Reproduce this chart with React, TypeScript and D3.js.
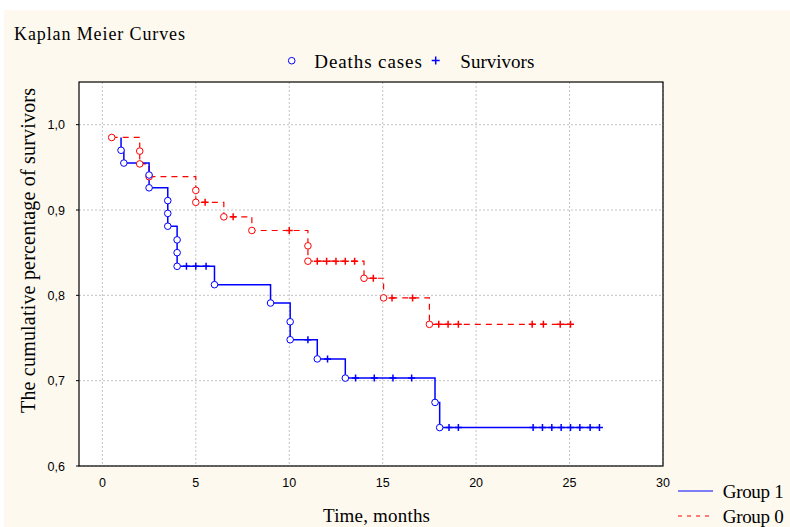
import React from "react";
import * as d3 from "d3";

// Group 1 (blue, solid): time, survival, marker (d = death, c = censored, n = none)
const group1Time = [1.0, 1.0, 1.15, 2.5, 2.5, 3.5, 3.5, 3.5, 4.0, 4.0, 4.0, 4.5, 5.0, 5.55, 6.0, 9.0, 10.05, 10.05, 11.0, 11.5, 12.05, 13.0, 13.55, 14.55, 15.55, 16.55, 17.8, 18.05, 18.55, 19.05, 23.05, 23.55, 24.05, 24.55, 25.05, 25.55, 26.1, 26.6];
const group1Surv = [0.985, 0.97, 0.955, 0.941, 0.926, 0.911, 0.896, 0.881, 0.865, 0.85, 0.834, 0.834, 0.834, 0.834, 0.8125, 0.791, 0.769, 0.748, 0.748, 0.7255, 0.7255, 0.703, 0.703, 0.703, 0.703, 0.703, 0.6745, 0.645, 0.645, 0.645, 0.645, 0.645, 0.645, 0.645, 0.645, 0.645, 0.645, 0.645];
const group1Mark = ["n", "d", "d", "d", "d", "d", "d", "d", "d", "d", "d", "c", "c", "c", "d", "d", "d", "d", "c", "d", "c", "d", "c", "c", "c", "c", "d", "d", "c", "c", "c", "c", "c", "c", "c", "c", "c", "c"];

// Group 0 (red, dashed)
const group0Time = [0.5, 2.0, 2.0, 2.5, 5.0, 5.0, 5.5, 6.5, 7.0, 8.0, 10.0, 11.0, 11.0, 11.5, 12.0, 12.5, 13.0, 13.5, 14.0, 14.5, 15.05, 15.5, 16.6, 17.5, 18.0, 18.5, 19.05, 23.0, 23.6, 24.5, 25.05];
const group0Surv = [0.985, 0.969, 0.954, 0.939, 0.923, 0.909, 0.909, 0.892, 0.892, 0.876, 0.876, 0.858, 0.84, 0.84, 0.84, 0.84, 0.84, 0.84, 0.82, 0.82, 0.797, 0.797, 0.797, 0.766, 0.766, 0.766, 0.766, 0.766, 0.766, 0.766, 0.766];
const group0Mark = ["d", "d", "d", "d", "d", "d", "c", "d", "c", "d", "c", "d", "d", "c", "c", "c", "c", "c", "d", "c", "d", "c", "c", "d", "c", "c", "c", "c", "c", "c", "c"];

const xTicks = [0, 5, 10, 15, 20, 25, 30];
const yTicks = [0.6, 0.7, 0.8, 0.9, 1.0];

const W = 790;
const H = 527;
const PLOT = { left: 79, right: 663, top: 82, bottom: 466 };

const x = d3.scaleLinear().domain([-1.25, 30]).range([PLOT.left, PLOT.right]);
const y = d3.scaleLinear().domain([0.6, 1.05]).range([PLOT.bottom, PLOT.top]);

const stepLine = d3
  .line<[number, number]>()
  .x((d) => x(d[0]))
  .y((d) => y(d[1]))
  .curve(d3.curveStepAfter);

const serif = "'Liberation Serif', 'Times New Roman', serif";
const sans = "'Liberation Sans', Arial, sans-serif";

function Markers({ times, surv, marks, color }: { times: number[]; surv: number[]; marks: string[]; color: string }) {
  return (
    <g>
      {times.map((t, i) => {
        const cx = x(t);
        const cy = y(surv[i]);
        if (marks[i] === "d") {
          return <circle key={i} cx={cx} cy={cy} r={3.3} fill="white" stroke={color} strokeWidth={1} />;
        }
        if (marks[i] === "c") {
          return (
            <path key={i} d={`M${cx - 3.5},${cy}H${cx + 3.5}M${cx},${cy - 3.5}V${cy + 3.5}`} stroke={color} strokeWidth={1.5} />
          );
        }
        return null;
      })}
    </g>
  );
}

const App = () => {
  const pts1 = group1Time.map((t, i) => [t, group1Surv[i]] as [number, number]);
  const pts0 = group0Time.map((t, i) => [t, group0Surv[i]] as [number, number]);

  return (
    <svg width={W} height={H} style={{ position: "absolute", left: 0, top: 0 }}>
      <rect x={0} y={0} width={W} height={H} fill="white" />
      <rect x={4} y={10} width={W - 4} height={H - 10} fill="#fdf9ef" />
      <rect x={PLOT.left} y={PLOT.top} width={PLOT.right - PLOT.left} height={PLOT.bottom - PLOT.top} fill="white" />

      {/* grid */}
      {xTicks.map((t) => (
        <line key={"gx" + t} x1={x(t)} x2={x(t)} y1={PLOT.top} y2={PLOT.bottom} stroke="#c4c4c4" strokeDasharray="2,2" />
      ))}
      {yTicks.map((t) => (
        <line key={"gy" + t} x1={PLOT.left} x2={PLOT.right} y1={y(t)} y2={y(t)} stroke="#c4c4c4" strokeDasharray="2,2" />
      ))}

      {/* curves */}
      <path d={stepLine(pts0) || ""} fill="none" stroke="#ff0000" strokeWidth={1.2} strokeDasharray="6,5" />
      <path d={stepLine(pts1) || ""} fill="none" stroke="#0000ff" strokeWidth={1.5} />
      <Markers times={group0Time} surv={group0Surv} marks={group0Mark} color="#ff0000" />
      <Markers times={group1Time} surv={group1Surv} marks={group1Mark} color="#0000ff" />

      {/* frame */}
      <rect x={PLOT.left} y={PLOT.top} width={PLOT.right - PLOT.left} height={PLOT.bottom - PLOT.top} fill="none" stroke="black" strokeWidth={1.2} />

      {/* y ticks */}
      {yTicks.map((t) => (
        <g key={"yt" + t}>
          <line x1={PLOT.left - 3} x2={PLOT.left} y1={y(t)} y2={y(t)} stroke="black" />
          <text x={65} y={y(t) + 4.5} textAnchor="end" fontFamily={sans} fontSize={12.5}>
            {t.toFixed(1).replace(".", ",")}
          </text>
        </g>
      ))}
      {xTicks.map((t) => (
        <text key={"xt" + t} x={x(t)} y={487} textAnchor="middle" fontFamily={sans} fontSize={12.5}>
          {t}
        </text>
      ))}

      {/* titles */}
      <text x={14} y={40} fontFamily={serif} fontSize={18} textLength={171} lengthAdjust="spacing">Kaplan Meier Curves</text>
      <text x={323} y={521.5} fontFamily={serif} fontSize={19} textLength={107} lengthAdjust="spacing">Time, months</text>
      <text transform="translate(35, 413) rotate(-90)" fontFamily={serif} fontSize={20} textLength={325} lengthAdjust="spacing">
        The cumulative percentage of survivors
      </text>

      {/* top legend */}
      <circle cx={291.7} cy={60.7} r={3.3} fill="white" stroke="#0000ff" />
      <text x={314.3} y={68} fontFamily={serif} fontSize={19} textLength={107.5} lengthAdjust="spacing">Deaths cases</text>
      <path d="M431.7,60.5H439.7M435.7,56.5V64.5" stroke="#0000ff" strokeWidth={1.5} />
      <text x={460.3} y={68} fontFamily={serif} fontSize={19} textLength={74} lengthAdjust="spacing">Survivors</text>

      {/* bottom-right legend */}
      <line x1={678} x2={713} y1={491} y2={491} stroke="#0000ff" strokeWidth={1.2} />
      <text x={722.7} y={498} fontFamily={serif} fontSize={19} textLength={61} lengthAdjust="spacing">Group 1</text>
      <line x1={678} x2={713} y1={516} y2={516} stroke="#ff0000" strokeWidth={1.2} strokeDasharray="4,5" />
      <text x={722.7} y={522.7} fontFamily={serif} fontSize={19} textLength={61} lengthAdjust="spacing">Group 0</text>
    </svg>
  );
};

export default App;
